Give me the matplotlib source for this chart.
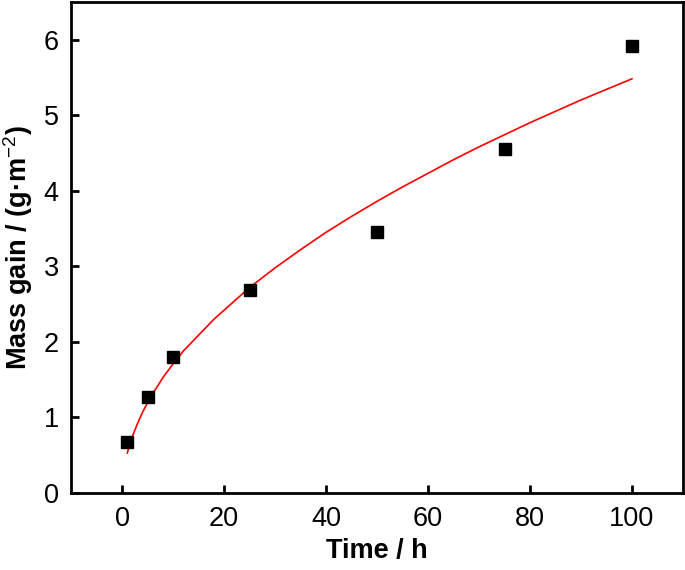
import matplotlib
matplotlib.use('Agg')
import matplotlib.pyplot as plt

# measured data
time_h = [1, 5, 10, 25, 50, 75, 100]
mass_gain = [0.67, 1.27, 1.80, 2.68, 3.45, 4.55, 5.92]

# fitted curve
fit_x = [1, 1.5, 2, 3, 4, 5, 6, 7, 8, 10, 12, 15, 18, 20, 25, 30, 35,
         40, 45, 50, 55, 60, 65, 70, 75, 80, 85, 90, 95, 100]
fit_y = [0.53, 0.65, 0.75, 0.92, 1.07, 1.20, 1.32, 1.42, 1.53, 1.71,
         1.88, 2.09, 2.30, 2.42, 2.72, 2.98, 3.22, 3.45, 3.66, 3.86,
         4.05, 4.23, 4.41, 4.58, 4.74, 4.90, 5.05, 5.20, 5.34, 5.48]

x_ticks = [0, 20, 40, 60, 80, 100]
y_ticks = [0, 1, 2, 3, 4, 5, 6]

plt.rcParams['font.family'] = ['Liberation Sans', 'DejaVu Sans']
plt.rcParams['mathtext.fontset'] = 'custom'
plt.rcParams['mathtext.rm'] = 'Liberation Sans'
plt.rcParams['mathtext.it'] = 'Liberation Sans'
plt.rcParams['mathtext.bf'] = 'Liberation Sans:bold'

fig = plt.figure(figsize=(6.85, 5.7), dpi=100)
ax = fig.add_axes([0.104, 0.135, 0.893, 0.862])

ax.plot(fit_x, fit_y, color='red', lw=1.2, zorder=2)
ax.plot(time_h, mass_gain, 's', color='black', ms=8.5, zorder=3)

ax.set_xlim(-10, 110)
ax.set_ylim(0, 6.5)
ax.set_xticks(x_ticks)
ax.set_yticks(y_ticks)

for s in ax.spines.values():
    s.set_linewidth(2)
ax.tick_params(direction='in', length=6, width=2, labelsize=19.5, pad=9,
               top=False, right=False)

ax.set_xlabel('Time / h', fontsize=19.5, fontweight='bold', labelpad=5)
ax.set_ylabel(r'Mass gain / (g·m$^{-2}$)', fontsize=19.5, fontweight='bold', labelpad=6)

fig.savefig('out.png', dpi=100)
